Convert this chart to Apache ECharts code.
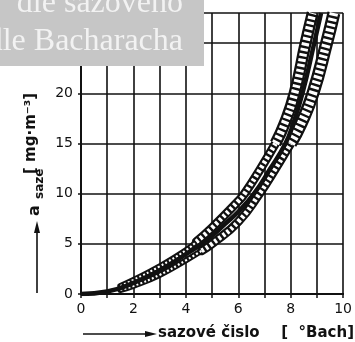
<!DOCTYPE html>
<html><head><meta charset="utf-8">
<script src="https://cdn.jsdelivr.net/npm/echarts@6/dist/echarts.min.js"></script>
<style>html,body{margin:0;padding:0;background:#fff}#c{width:355px;height:342px}</style>
</head><body><div id="c"></div>
<script>
// Data
const xTickLabels = [0, 2, 4, 6, 8, 10];
const yTickLabels = [0, 5, 10, 15, 20, 25];
// centre curve: soot concentration vs Bacharach number
const centerCurve = [[0,0],[1,0.25],[2,1.1],[3,2.35],[4,3.95],[4.6,5],[5,5.8],[5.5,7],[6,8.2],[6.6,10],[7.2,12.4],[7.8,15],[8.1,17],[8.45,20],[8.9,25],[9.16,28]];
// upper (left) hatched band, three pieces
const upperLow  = [[1.5,0.8],[2,1.4],[3,2.75],[4,4.35],[4.4,5.2]];
const upperMid  = [[4.4,5.2],[5,6.6],[6,9.25],[6.24,10],[6.83,12.4],[7.42,15]];
const upperHigh = [[7.42,15],[7.77,17],[8.15,20],[8.57,25],[8.84,28]];
// lower (right) hatched band, three pieces
const lowerLow  = [[1.5,0.4],[2,0.8],[3,1.9],[4,3.35],[4.6,4.3]];
const lowerMid  = [[4.6,4.3],[5,5.0],[6,7.2],[6.81,10],[7.4,12.4],[8.0,15]];
const lowerHigh = [[8.0,15],[8.4,17],[8.85,20],[9.37,25],[9.65,28]];

const ink = '#111';
const chart = echarts.init(document.getElementById('c'));
function band(data, color, width, dash, z, cap) {
  return {type:'line', data, smooth:true, showSymbol:false, silent:true, z,
    lineStyle:{color, width, type: dash || 'solid', cap: cap || 'butt'}};
}
const blacks = [[upperLow,6,'round'],[upperMid,9,'round'],[upperHigh,12,'butt'],
                [lowerLow,6,'round'],[lowerMid,9,'round'],[lowerHigh,13,'butt']];
const whites = [[upperLow,2.2,[2,2.2]],[upperMid,4.8,[2.8,2.4]],[upperHigh,7.5,[3,2.4]],
                [lowerLow,2.2,[2,2.2]],[lowerMid,4.8,[2.8,2.4]],[lowerHigh,8.5,[3,2.4]]];
const series = [];
blacks.forEach(b => series.push(band(b[0], ink, b[1], null, 2, b[2])));
whites.forEach(w => series.push(band(w[0], '#fff', w[1], w[2], 3, 'butt')));
series.push(band(centerCurve, ink, 4.5, null, 4, 'butt'));

chart.setOption({
  animation:false,
  grid:{left:81, right:8, top:13, bottom:48},
  xAxis:[{type:'value', min:0, max:10, interval:1,
    axisLine:{show:true, onZero:false, lineStyle:{color:ink, width:2}},
    axisTick:{show:true, length:4, lineStyle:{color:ink, width:1.5}},
    splitLine:{show:true, lineStyle:{color:ink, width:1.6}},
    axisLabel:{margin:8, color:ink, fontSize:14, fontFamily:'DejaVu Sans',
      formatter:v => xTickLabels.includes(v) ? String(v) : ''}},
    {type:'value', min:0, max:10, position:'top', axisLine:{show:true, lineStyle:{color:ink, width:2}},
     axisTick:{show:false}, axisLabel:{show:false}, splitLine:{show:false}}],
  yAxis:[{type:'value', min:0, max:28, interval:5,
    axisLine:{show:true, onZero:false, lineStyle:{color:ink, width:2}},
    axisTick:{show:true, length:3, lineStyle:{color:ink, width:1.5}},
    splitLine:{show:true, lineStyle:{color:ink, width:1.6}},
    axisLabel:{margin:8, color:ink, fontSize:14, fontFamily:'DejaVu Sans',
      formatter:v => yTickLabels.includes(v) ? String(v) : ''}},
    {type:'value', min:0, max:28, position:'right', axisLine:{show:true, lineStyle:{color:ink, width:2}},
     axisTick:{show:false}, axisLabel:{show:false}, splitLine:{show:false}}],
  series,
  graphic:[
    {type:'rect', left:0, top:0, shape:{x:0,y:0,width:204,height:66}, style:{fill:'#c6c6c6'}, z:100},
    {type:'text', x:183, y:4, z:101, style:{text:'dle sazového', fill:'#f2f2f2', font:'32px "Liberation Serif"', align:'right', verticalAlign:'middle'}},
    {type:'text', x:183, y:42, z:101, style:{text:'dle Bacharacha', fill:'#f2f2f2', font:'32px "Liberation Serif"', align:'right', verticalAlign:'middle'}},
    // y axis name (rotated)
    {type:'text', x:35, y:216, rotation:Math.PI/2, z:50, style:{text:'a', fill:ink, font:'bold 16px "DejaVu Sans"', align:'left', verticalAlign:'middle'}},
    {type:'text', x:40, y:199, rotation:Math.PI/2, z:50, style:{text:'saze', fill:ink, font:'bold 12px "DejaVu Sans"', align:'left', verticalAlign:'middle'}},
    {type:'text', x:31, y:174, rotation:Math.PI/2, z:50, style:{text:'[ mg·m⁻³]', fill:ink, font:'bold 15px "DejaVu Sans"', align:'left', verticalAlign:'middle'}},
    {type:'line', z:50, shape:{x1:37, y1:293, x2:37, y2:228}, style:{stroke:ink, lineWidth:1.6}},
    {type:'polygon', z:50, shape:{points:[[37,221],[34,233],[40,233]]}, style:{fill:ink}},
    // x axis name
    {type:'line', z:50, shape:{x1:83, y1:334, x2:150, y2:334}, style:{stroke:ink, lineWidth:1.6}},
    {type:'polygon', z:50, shape:{points:[[157,334],[145,331],[145,337]]}, style:{fill:ink}},
    {type:'text', x:158, y:333, z:50, style:{text:'sazové čislo', fill:ink, font:'bold 15px "DejaVu Sans"', align:'left', verticalAlign:'middle'}},
    {type:'text', x:354, y:333, z:50, style:{text:'[  °Bach]', fill:ink, font:'bold 15px "DejaVu Sans"', align:'right', verticalAlign:'middle'}}
  ]
});
</script></body></html>
